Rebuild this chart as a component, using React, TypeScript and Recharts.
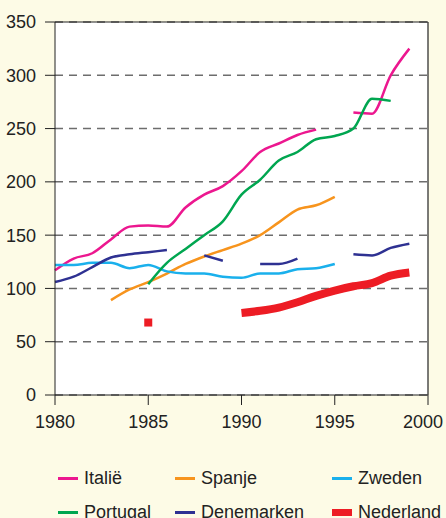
import React from "react";
import {
  LineChart,
  Line,
  XAxis,
  YAxis,
  CartesianGrid,
  ReferenceLine,
} from "recharts";

const years = [
  1980, 1981, 1982, 1983, 1984, 1985, 1986, 1987, 1988, 1989,
  1990, 1991, 1992, 1993, 1994, 1995, 1996, 1997, 1998, 1999,
];

const italie = [117, 128, 133, 146, 158, 159, 158, 176, 188, 196, 210, 228, 236, 244, 249, null, 265, 264, 300, 325];
const portugal = [null, null, null, null, null, 104, 124, 137, 150, 163, 188, 202, 220, 228, 240, 243, 250, 278, 276, null];
const spanje = [null, null, null, 89, 99, 106, 114, 123, 130, 136, 142, 150, 162, 174, 178, 186, null, null, null, null];
const zweden = [122, 122, 124, 124, 119, 122, 116, 114, 114, 111, 110, 114, 114, 118, 119, 123, null, null, null, null];
const denemarken = [106, 111, 120, 129, 132, 134, 136, null, 131, 126, null, 123, 123, 128, null, null, 132, 131, 138, 142];
const nederland = [null, null, null, null, null, 68, null, null, null, null, 77, 79, 82, 87, 93, 98, 102, 105, 112, 115];

const xTicks = [1980, 1985, 1990, 1995, 2000];
const yTicks = [0, 50, 100, 150, 200, 250, 300, 350];

const series = [
  { key: "italie", name: "Italië", color: "#ec178f", values: italie, width: 2.5 },
  { key: "spanje", name: "Spanje", color: "#f7941d", values: spanje, width: 2.5 },
  { key: "zweden", name: "Zweden", color: "#1ab0ec", values: zweden, width: 2.5 },
  { key: "portugal", name: "Portugal", color: "#00a650", values: portugal, width: 2.5 },
  { key: "denemarken", name: "Denemarken", color: "#2e3192", values: denemarken, width: 2.5 },
  { key: "nederland", name: "Nederland", color: "#ed1c24", values: nederland, width: 8 },
];

const data = years.map((year, i) => {
  const row: Record<string, number | null> = { year };
  series.forEach((s) => {
    row[s.key] = s.values[i];
  });
  return row;
});

const font = "'Liberation Sans', Arial, sans-serif";

// square marker for a value that stands alone (no neighbours to connect)
const isolatedDot = (values: (number | null)[], color: string) => (props: any) => {
  const { cx, cy, index } = props;
  const prev = index > 0 ? values[index - 1] : null;
  const next = index < values.length - 1 ? values[index + 1] : null;
  if (values[index] == null || prev != null || next != null || cx == null || cy == null) {
    return <g key={`d-${index}`} />;
  }
  return <rect key={`d-${index}`} x={cx - 4} y={cy - 4} width={8} height={8} fill={color} />;
};

// last year label is pulled in a little so it stays inside the page
const XTick = (props: any) => {
  const { x, y, payload } = props;
  const shift = payload.value === 2000 ? -5 : 0;
  return (
    <text
      x={x + shift}
      y={y + 13}
      textAnchor="middle"
      fill="#222"
      fontSize={18}
      fontFamily={font}
    >
      {payload.value}
    </text>
  );
};

const App = () => {
  return (
    <div
      style={{
        position: "absolute",
        top: 0,
        left: 0,
        width: 446,
        height: 518,
        background: "#fdfbe6",
        fontFamily: font,
        overflow: "hidden",
      }}
    >
      <LineChart
        width={446}
        height={518}
        data={data}
        margin={{ top: 22, right: 18, bottom: 83, left: 0 }}
      >
        <CartesianGrid
          vertical={false}
          fill="#ffffff"
          stroke="#6d6d6d"
          strokeWidth={1.5}
          strokeDasharray="8 6"
        />
        <XAxis
          dataKey="year"
          type="number"
          domain={[1980, 2000]}
          ticks={xTicks}
          height={40}
          tickSize={10}
          tickMargin={10}
          stroke="#222"
          tick={<XTick />}
        />
        <YAxis
          domain={[0, 350]}
          ticks={yTicks}
          width={55}
          tickSize={10}
          tickMargin={9}
          stroke="#222"
          tick={{ fill: "#222", fontSize: 18, fontFamily: font }}
        />
        <ReferenceLine y={350} stroke="#222" strokeWidth={1.2} />
        <ReferenceLine x={2000} stroke="#222" strokeWidth={1.2} />
        {series.map((s) => (
          <Line
            key={s.key}
            dataKey={s.key}
            type="monotone"
            stroke={s.color}
            strokeWidth={s.width}
            dot={isolatedDot(s.values, s.color)}
            activeDot={false}
            connectNulls={false}
            isAnimationActive={false}
          />
        ))}
      </LineChart>
      <div
        style={{
          position: "absolute",
          top: 467,
          left: 58,
          display: "grid",
          gridTemplateColumns: "117px 157px 110px",
          rowGap: 12,
          fontSize: 18,
          color: "#222",
        }}
      >
        {series.map((s) => (
          <div key={s.key} style={{ display: "flex", alignItems: "center", height: 22, whiteSpace: "nowrap" }}>
            <span
              style={{
                display: "inline-block",
                width: 20,
                height: s.width > 4 ? 7 : 3,
                background: s.color,
                marginRight: 6,
              }}
            />
            {s.name}
          </div>
        ))}
      </div>
    </div>
  );
};

export default App;
